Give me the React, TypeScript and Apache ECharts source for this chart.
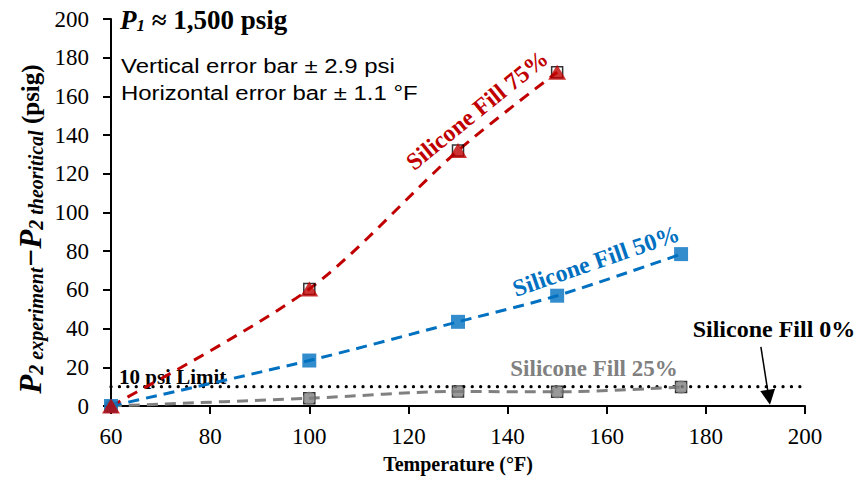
import React, { useEffect, useRef } from "react";
import * as echarts from "echarts";

// Temperatures (°F) for each fill level
const temps75 = [60, 100, 130, 150];
const temps50 = [60, 100, 130, 150, 175];
const temps25 = [60, 100, 130, 150, 175];

// Pressure difference P2,exp − P2,theo (psig)
const fill75 = [0, 60.5, 132, 172.5];
const fill50 = [0, 23.5, 43.5, 57, 78.5];
const fill25 = [0, 4, 7.5, 7.3, 9.8];

const limitPsi = 10;
const xTicks = [60, 80, 100, 120, 140, 160, 180, 200];
const yTicks = [0, 20, 40, 60, 80, 100, 120, 140, 160, 180, 200];

const SERIF = "Liberation Serif";
const SANS = "Liberation Sans";

const RED = "#C00000";
const BLUE = "#0070C0";
const GRAY = "#808080";

const pairs = (xs: number[], ys: number[]) => xs.map((x, i) => [x, ys[i]]);

const tickLabel = (ticks: number[], margin: number) => ({
  show: true,
  fontFamily: SERIF,
  fontSize: 23,
  color: "#000",
  margin,
  formatter: (v: number) => (ticks.includes(v) ? String(v) : ""),
});

export default function App() {
  const ref = useRef<HTMLDivElement>(null);

  useEffect(() => {
    if (!ref.current) return;
    const chart = echarts.init(ref.current, undefined, { renderer: "svg" });

    const errBox = (xs: number[], ys: number[]) => ({
      type: "scatter",
      data: pairs(xs, ys).filter((p) => p[1] !== 0),
      symbol: "rect",
      symbolSize: 11,
      itemStyle: { color: "rgba(0,0,0,0)", borderColor: "#000", borderWidth: 1.5 },
      z: 3,
      silent: true,
    });

    const trend = (xs: number[], ys: number[], color: string, dash: number[]) => ({
      type: "line",
      data: pairs(xs, ys),
      smooth: 0.3,
      showSymbol: false,
      lineStyle: { color, width: 3, type: dash },
      z: 2,
      silent: true,
    });

    chart.setOption({
      animation: false,
      grid: { left: 111, right: 52, top: 19, bottom: 72 },
      xAxis: {
        type: "value",
        min: 60,
        max: 200,
        interval: 20,
        name: "Temperature (°F)",
        nameLocation: "middle",
        nameGap: 48,
        nameTextStyle: { fontFamily: SERIF, fontWeight: "bold", fontSize: 20, color: "#000" },
        axisLine: { lineStyle: { color: "#000", width: 2 } },
        axisTick: { show: true, length: 8, inside: false, lineStyle: { color: "#000", width: 2 } },
        axisLabel: tickLabel(xTicks, 19),
        splitLine: { show: false },
      },
      yAxis: {
        type: "value",
        min: 0,
        max: 200,
        interval: 20,
        axisLine: { show: true, lineStyle: { color: "#000", width: 2 } },
        axisTick: { show: true, length: 8, inside: false, lineStyle: { color: "#000", width: 2 } },
        axisLabel: tickLabel(yTicks, 22),
        splitLine: { show: false },
      },
      series: [
        // 10 psi limit line with arrow pointing at the 0% fill curve
        {
          type: "line",
          data: [
            [60, limitPsi],
            [200, limitPsi],
          ],
          showSymbol: false,
          lineStyle: { color: "#000", width: 3.2, type: [0.1, 8.3], cap: "round" },
          z: 1,
          silent: true,
          markLine: {
            silent: true,
            symbol: ["none", "triangle"],
            symbolSize: [15, 15],
            label: { show: false },
            lineStyle: { color: "#000", width: 1.5, type: "solid" },
            data: [[{ coord: [191.1, 30.5] }, { coord: [192.7, 4.5] }]],
          },
        },
        trend(temps25, fill25, GRAY, [11, 7]),
        trend(temps50, fill50, BLUE, [11, 7]),
        trend(temps75, fill75, RED, [11, 8]),
        errBox(temps25, fill25),
        errBox(temps75, fill75),
        {
          type: "scatter",
          data: pairs(temps25, fill25),
          symbol: "circle",
          symbolSize: 13,
          itemStyle: { color: GRAY },
          z: 4,
        },
        {
          type: "scatter",
          data: pairs(temps50, fill50),
          symbol: "rect",
          symbolSize: 14,
          itemStyle: { color: BLUE },
          z: 4,
        },
        {
          type: "scatter",
          data: pairs(temps75, fill75),
          symbol: "triangle",
          symbolSize: [18, 15],
          itemStyle: { color: RED },
          z: 5,
        },
      ],
      graphic: [
        {
          type: "text",
          x: 30,
          y: 229,
          rotation: Math.PI / 2,
          style: {
            text: "{p|P}{s|2 experiment}{p|−P}{s|2 theoritical}{u| (psig)}",
            align: "center",
            verticalAlign: "middle",
            fill: "#000",
            rich: {
              p: { fontFamily: SERIF, fontStyle: "italic", fontWeight: "bold", fontSize: 31, lineHeight: 32, verticalAlign: "middle" },
              s: { fontFamily: SERIF, fontStyle: "italic", fontWeight: "bold", fontSize: 20, lineHeight: 32, verticalAlign: "bottom" },
              u: { fontFamily: SERIF, fontWeight: "bold", fontSize: 25, lineHeight: 32, verticalAlign: "middle" },
            },
          },
        },
        {
          type: "text",
          x: 120,
          y: 20,
          style: {
            text: "{p|P}{s|1}{t| ≈ 1,500 psig}",
            align: "left",
            verticalAlign: "middle",
            fill: "#000",
            rich: {
              p: { fontFamily: SERIF, fontStyle: "italic", fontWeight: "bold", fontSize: 27, lineHeight: 28, verticalAlign: "middle" },
              s: { fontFamily: SERIF, fontStyle: "italic", fontWeight: "bold", fontSize: 17, lineHeight: 28, verticalAlign: "bottom" },
              t: { fontFamily: SERIF, fontWeight: "bold", fontSize: 27, lineHeight: 28, verticalAlign: "middle" },
            },
          },
        },
        {
          type: "text",
          x: 121,
          y: 66,
          scaleX: 1.14,
          style: { text: "Vertical error bar ± 2.9 psi", fontFamily: SANS, fontSize: 21, fill: "#000", align: "left", verticalAlign: "middle" },
        },
        {
          type: "text",
          x: 121,
          y: 93,
          scaleX: 1.14,
          style: { text: "Horizontal error bar ± 1.1 °F", fontFamily: SANS, fontSize: 21, fill: "#000", align: "left", verticalAlign: "middle" },
        },
        {
          type: "text",
          x: 477,
          y: 110,
          rotation: (39 * Math.PI) / 180,
          style: { text: "Silicone Fill 75%", fontFamily: SERIF, fontWeight: "bold", fontSize: 24, fill: RED, align: "center", verticalAlign: "middle" },
        },
        {
          type: "text",
          x: 596,
          y: 261,
          rotation: (19 * Math.PI) / 180,
          style: { text: "Silicone Fill 50%", fontFamily: SERIF, fontWeight: "bold", fontSize: 24, fill: BLUE, align: "center", verticalAlign: "middle" },
        },
        {
          type: "text",
          x: 594,
          y: 368,
          style: { text: "Silicone Fill 25%", fontFamily: SERIF, fontWeight: "bold", fontSize: 23, fill: GRAY, align: "center", verticalAlign: "middle" },
        },
        {
          type: "text",
          x: 774,
          y: 329,
          style: { text: "Silicone Fill 0%", fontFamily: SERIF, fontWeight: "bold", fontSize: 24, fill: "#000", align: "center", verticalAlign: "middle" },
        },
        {
          type: "text",
          x: 119,
          y: 377,
          style: { text: "10 psi Limit", fontFamily: SERIF, fontWeight: "bold", fontSize: 21, fill: "#000", align: "left", verticalAlign: "middle" },
        },
      ],
    });

    return () => chart.dispose();
  }, []);

  return <div ref={ref} style={{ width: 857, height: 479, position: "absolute", left: 0, top: 0 }} />;
}
